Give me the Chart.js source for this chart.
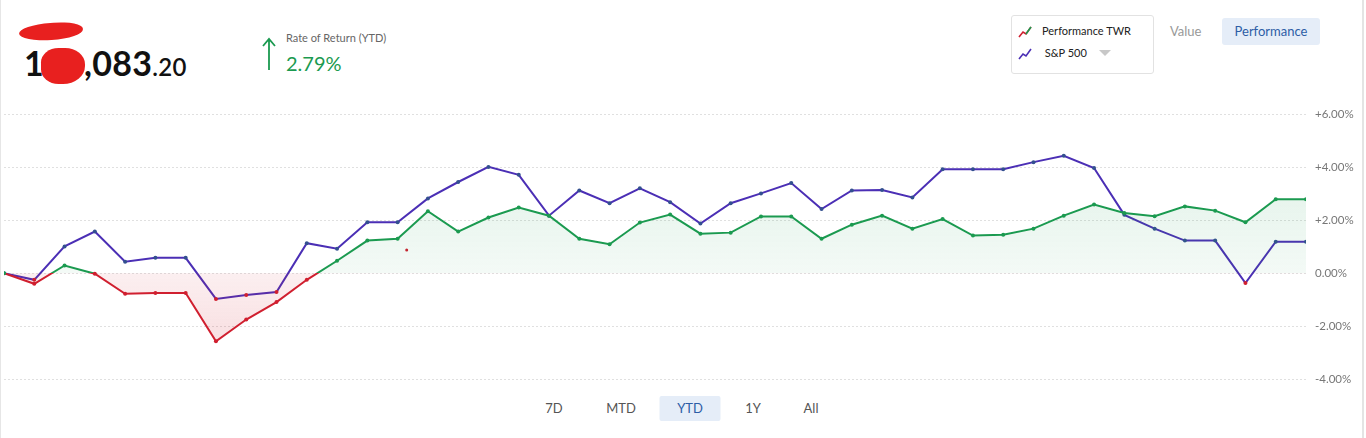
<!DOCTYPE html>
<html>
<head>
<meta charset="utf-8">
<script src="https://cdn.jsdelivr.net/npm/chart.js@4/dist/chart.umd.min.js"></script>
<style>
  body { margin: 0; width: 1366px; height: 438px; background: #fff; font-family: Lato, "Open Sans", sans-serif; overflow: hidden; position: relative; }
  .edge-l { position: absolute; left: 0; top: 0; width: 1px; height: 438px; background: #e6e6e6; }
  .edge-r { position: absolute; left: 1362px; top: 0; width: 2px; height: 438px; background: #e4e4e4; }
  .balance { position: absolute; left: 24px; top: 42px; font-weight: 700; color: #111; font-size: 34px; letter-spacing: 0.3px; white-space: nowrap; }
  .balance .cents { font-size: 24px; font-weight: 600; }
  .blob { display: inline-block; width: 44px; height: 36px; background: #e8201f; border-radius: 40% 45% 50% 40%; vertical-align: -8px; margin-left: -3px; margin-right: -1px; }
  .scribble { position: absolute; left: 19px; top: 23px; width: 64px; height: 17px; background: #e8201f; border-radius: 50% 45% 50% 50%; transform: rotate(-4deg); }
  .arrow { position: absolute; left: 262px; top: 37px; }
  .ror-label { position: absolute; left: 286px; top: 31px; font-size: 11px; color: #666; }
  .ror { position: absolute; left: 286px; top: 51px; font-size: 20px; color: #1b9a50; }
  .legend { position: absolute; left: 1011px; top: 15px; width: 141px; height: 57px; border: 1px solid #e2e2e2; border-radius: 3px; }
  .legend .row { position: absolute; left: 6px; font-size: 11px; color: #222; white-space: nowrap; }
  .legend svg { vertical-align: middle; margin-right: 10px; }
  .tri { display: inline-block; width: 0; height: 0; border-left: 6px solid transparent; border-right: 6px solid transparent; border-top: 6px solid #c8c8c8; margin-left: 12px; vertical-align: 1px; }
  .value-btn { position: absolute; left: 1170px; top: 23px; font-size: 13px; color: #999; }
  .perf-btn { position: absolute; left: 1222px; top: 18px; width: 98px; height: 27px; background: #e5edf8; border-radius: 3px; color: #2d5da6; font-size: 13px; text-align: center; line-height: 27px; }
  .ranges { position: absolute; top: 396px; left: 0; font-size: 13px; color: #555; }
  .ranges span { position: absolute; top: 0; height: 25px; line-height: 25px; text-align: center; transform: translateX(-50%); white-space: nowrap; }
  .ranges .on { background: #e5edf8; color: #2d5da6; width: 61px; border-radius: 2px; }
  /* the y axis reserves ~16px above and below for its labels, so the box is taller than the plot */
  #wrap { position: absolute; left: 0; top: 85px; width: 1362px; height: 326px; }
</style>
</head>
<body>
<div class="edge-l"></div>
<div class="edge-r"></div>

<div class="scribble"></div>
<div class="balance">1<span class="blob"></span>,083<span class="cents">.20</span></div>

<svg class="arrow" width="14" height="34" viewBox="0 0 14 34">
  <path d="M7 33 L7 2 M1 9 L7 2 L13 9" stroke="#1b9a50" stroke-width="1.8" fill="none"/>
</svg>
<div class="ror-label">Rate of Return (YTD)</div>
<div class="ror">2.79%</div>

<div class="legend">
  <div class="row" style="top:8px">
    <svg width="14" height="12" viewBox="0 0 14 12"><polyline points="1,11 5,6 8,8 13,1" fill="none" stroke="#d01f2f" stroke-width="1.6"/><polyline points="8,8 13,1" fill="none" stroke="#1b9a50" stroke-width="1.6"/></svg>Performance TWR
  </div>
  <div class="row" style="top:30px">
    <svg width="14" height="12" viewBox="0 0 14 12"><polyline points="1,11 5,6 8,8 13,1" fill="none" stroke="#4b2fb5" stroke-width="1.6"/></svg>&nbsp;S&amp;P 500<span class="tri"></span>
  </div>
</div>
<div class="value-btn">Value</div>
<div class="perf-btn">Performance</div>

<div class="ranges">
  <span style="left:554px">7D</span>
  <span style="left:621px">MTD</span>
  <span class="on" style="left:690px">YTD</span>
  <span style="left:753px">1Y</span>
  <span style="left:811px">All</span>
</div>

<div id="wrap"><canvas id="chart"></canvas></div>

<script>
// weekly YTD returns, in percent
const twr = [0, -0.40, 0.29, -0.02, -0.78, -0.75, -0.75, -2.57, -1.75, -1.09,
  -0.25, 0.47, 1.23, 1.30, 2.34, 1.57, 2.10, 2.48, 2.17, 1.30,
  1.09, 1.91, 2.21, 1.49, 1.53, 2.14, 2.14, 1.30, 1.83, 2.17,
  1.68, 2.04, 1.42, 1.45, 1.68, 2.17, 2.59, 2.27, 2.15, 2.52,
  2.36, 1.92, 2.79, 2.79];
const sp500 = [0, -0.25, 1.01, 1.57, 0.43, 0.58, 0.58, -0.97, -0.82, -0.71,
  1.13, 0.92, 1.92, 1.92, 2.82, 3.44, 4.01, 3.71, 2.17, 3.12,
  2.64, 3.20, 2.68, 1.87, 2.64, 3.01, 3.40, 2.42, 3.12, 3.14,
  2.86, 3.92, 3.92, 3.92, 4.19, 4.43, 3.97, 2.20, 1.68, 1.23,
  1.23, -0.37, 1.19, 1.19];
// lone marker left on the plot (hover remnant)
const strayX = [13.3];
const strayY = [0.87];
const yTicks = [-4, -2, 0, 2, 4, 6];

const GREEN = '#1b9a50';
const RED = '#d01f2f';
const PURPLE = '#4b2fb5';
const DOT_BLUE = '#33508f';

function zeroSplit(ctx, top, zeroA, zeroB, bottom) {
  const chart = ctx.chart;
  const area = chart.chartArea;
  if (!area) return top;
  const z = chart.scales.y.getPixelForValue(0);
  const s = Math.min(1, Math.max(0, (z - area.top) / (area.bottom - area.top)));
  const g = chart.ctx.createLinearGradient(0, area.top, 0, area.bottom);
  g.addColorStop(0, top);
  g.addColorStop(s, zeroA);
  g.addColorStop(s, zeroB);
  g.addColorStop(1, bottom);
  return g;
}

const ctx = document.getElementById('chart').getContext('2d');

new Chart(ctx, {
  type: 'line',
  data: {
    datasets: [
      {
        label: 'Performance TWR',
        data: twr.map((v, i) => ({ x: i, y: v })),
        borderWidth: 2,
        borderColor: c => zeroSplit(c, GREEN, GREEN, RED, RED),
        backgroundColor: c => zeroSplit(c, 'rgba(27,154,80,0.17)', 'rgba(27,154,80,0.05)', 'rgba(208,31,47,0.07)', 'rgba(208,31,47,0.2)'),
        fill: { value: 0 },
        pointRadius: 2,
        pointBorderWidth: 0,
        pointBackgroundColor: c => (c.raw && c.raw.y < 0 ? RED : GREEN),
        tension: 0
      },
      {
        label: 'S&P 500',
        data: sp500.map((v, i) => ({ x: i, y: v })),
        borderWidth: 2,
        borderColor: PURPLE,
        fill: false,
        pointRadius: 2,
        pointBorderWidth: 0,
        pointBackgroundColor: c => (c.raw && c.raw.y < 0 ? RED : DOT_BLUE),
        tension: 0
      },
      {
        label: 'marker',
        data: strayX.map((x, i) => ({ x: x, y: strayY[i] })),
        showLine: false,
        pointRadius: 1.5,
        pointBorderWidth: 0,
        pointBackgroundColor: RED
      }
    ]
  },
  options: {
    responsive: true,
    maintainAspectRatio: false,
    animation: false,
    layout: { padding: 0 },
    plugins: { legend: { display: false }, tooltip: { enabled: false } },
    scales: {
      x: {
        type: 'linear',
        min: 0,
        max: twr.length - 1,
        display: false
      },
      y: {
        position: 'right',
        min: -4.6,
        max: 6.5,
        afterFit: scale => { scale.width = 56; },
        afterBuildTicks: scale => { scale.ticks = yTicks.map(v => ({ value: v })); },
        grid: { color: '#e0e0e0', lineWidth: 1, drawTicks: false },
        border: { display: false, dash: [2, 2] },
        ticks: {
          padding: 9,
          color: '#777',
          font: { family: 'Lato', size: 11.5 },
          callback: v => (v > 0 ? '+' : '') + v.toFixed(2) + '%'
        }
      }
    }
  }
});
</script>
</body>
</html>
